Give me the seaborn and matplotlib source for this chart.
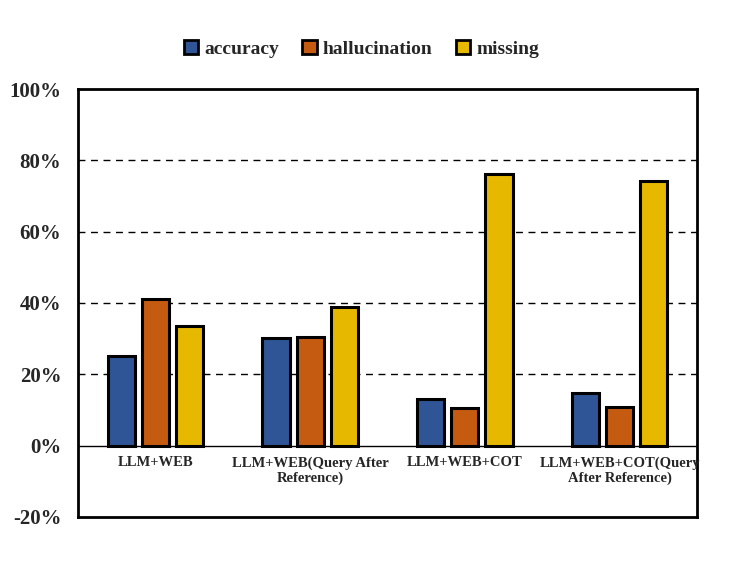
import matplotlib
matplotlib.use('Agg')
import matplotlib.pyplot as plt
import seaborn as sns
import pandas as pd
from matplotlib.ticker import FuncFormatter

# values (percent)
categories = ['LLM+WEB', 'LLM+WEB(Query After\nReference)', 'LLM+WEB+COT', 'LLM+WEB+COT(Query\nAfter Reference)']
accuracy = [25.2, 30.3, 13.2, 14.8]
hallucination = [41.2, 30.5, 10.6, 10.9]
missing = [33.6, 38.9, 76.2, 74.2]

series = ['accuracy', 'hallucination', 'missing']
colors = ['#2F5597', '#C55A11', '#E6B800']

df = pd.DataFrame({'category': categories * 3,
                   'metric': [s for s in series for _ in categories],
                   'value': accuracy + hallucination + missing})

sns.set_style('white')
plt.rcParams['font.family'] = ['Liberation Serif', 'DejaVu Serif']
plt.rcParams['font.weight'] = 'bold'

fig = plt.figure(figsize=(7.47, 5.61), dpi=100)
ax = fig.add_axes([78 / 747, 44 / 561, 619 / 747, 428 / 561])

sns.barplot(data=df, x='category', y='value', hue='metric', palette=colors, saturation=1,
            width=0.66, gap=0.2, edgecolor='black', linewidth=2.2, ax=ax)

ax.set_ylim(-20, 100)
ax.set_xlim(-0.5, 3.5)
ax.set_yticks(range(-20, 101, 20))
ax.yaxis.set_major_formatter(FuncFormatter(lambda v, p: f'{int(v)}%'))
ax.tick_params(axis='y', length=0, labelsize=15, pad=12)
for t in ax.get_yticklabels():
    t.set_fontweight('bold')

# dashed gridlines and the zero line
for g in [20, 40, 60, 80]:
    ax.axhline(g, color='black', linestyle=(0, (5, 4)), linewidth=1, zorder=0)
ax.axhline(0, color='black', linewidth=1, zorder=1)

# category labels sit just under the zero line
ax.set_xticks([])
for i, c in enumerate(categories):
    ax.text(i, -3, c, ha='center', va='top', fontsize=10.5, fontweight='bold')

ax.set_xlabel('')
ax.set_ylabel('')
for s in ax.spines.values():
    s.set_visible(True)
    s.set_color('black')
    s.set_linewidth(2)

leg = ax.legend(loc='upper center', bbox_to_anchor=(0.458, 1.155), ncol=3, frameon=False,
                prop={'size': 14, 'weight': 'bold'}, handlelength=0.75, handleheight=0.75,
                handletextpad=0.3, columnspacing=1.2)
for h in leg.legend_handles:
    h.set_edgecolor('black')
    h.set_linewidth(2)
for t in leg.get_texts():
    t.set_fontweight('bold')

fig.savefig('out.png', dpi=100)
